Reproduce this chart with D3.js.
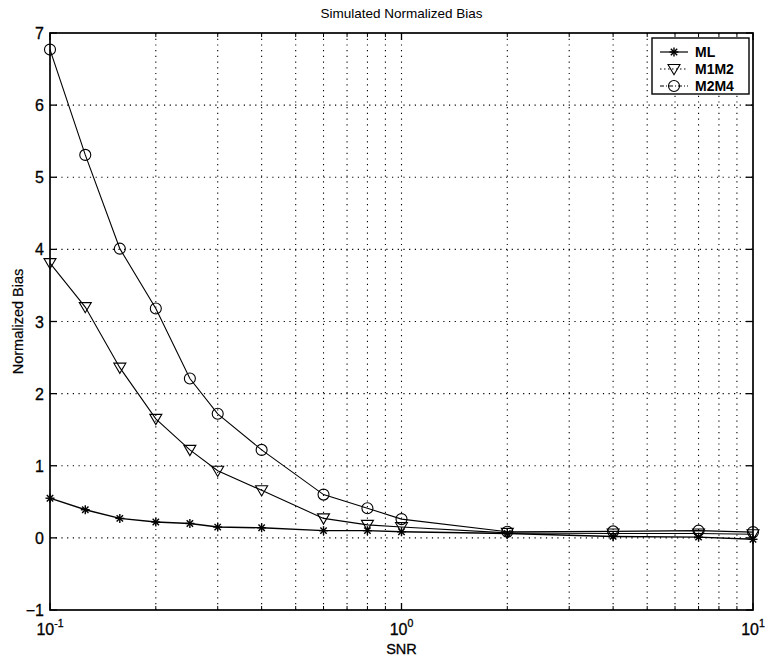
<!DOCTYPE html>
<html><head><meta charset="utf-8">
<script src="https://cdn.jsdelivr.net/npm/d3@7"></script>
<style>body{margin:0;background:#fff;} svg{display:block;} text{font-family:"Liberation Sans",Arial,sans-serif;fill:#000;}</style>
</head><body>
<svg id="c" width="765" height="660"></svg>
<script>
const snr = [0.1, 0.126, 0.158, 0.2, 0.25, 0.3, 0.4, 0.6, 0.8, 1.0, 2.0, 4.0, 7.0, 10.0];
const ml   = [0.55, 0.39, 0.27, 0.22, 0.20, 0.15, 0.14, 0.10, 0.10, 0.085, 0.06, 0.02, 0.01, -0.02];
const m1m2 = [3.81, 3.20, 2.36, 1.65, 1.22, 0.93, 0.66, 0.27, 0.18, 0.15, 0.07, 0.06, 0.06, 0.05];
const m2m4 = [6.77, 5.31, 4.01, 3.18, 2.21, 1.72, 1.22, 0.60, 0.41, 0.26, 0.085, 0.09, 0.10, 0.08];
const seriesNames = ["ML", "M1M2", "M2M4"];
const yTicks = [-1, 0, 1, 2, 3, 4, 5, 6, 7];
const xMajor = [0.1, 1, 10];
const xMajorExp = ["-1", "0", "1"];
const title = "Simulated Normalized Bias";
const xTitle = "SNR";
const yTitle = "Normalized  Bias";

const svg = d3.select("#c");
const L = 50, R = 753, T = 33, B = 610;
const x = d3.scaleLog().domain([0.1, 10]).range([L, R]);
const y = d3.scaleLinear().domain([-1, 7]).range([B, T]);

const xMinor = [];
[0.1, 1].forEach(d => { for (let k = 2; k <= 9; k++) xMinor.push(d * k); });

const g = svg.append("g");
const gridStyle = s => s.attr("stroke", "#000").attr("stroke-width", 1.1).attr("stroke-dasharray", "1.2,4.5").attr("fill", "none");
g.selectAll(".gx").data(xMinor.concat([1])).join("line")
  .attr("x1", d => x(d)).attr("x2", d => x(d)).attr("y1", T).attr("y2", B).call(gridStyle);
g.selectAll(".gy").data(yTicks.slice(1, -1)).join("line")
  .attr("x1", L).attr("x2", R).attr("y1", d => y(d)).attr("y2", d => y(d)).call(gridStyle);

g.append("rect").attr("x", L).attr("y", T).attr("width", R - L).attr("height", B - T)
  .attr("fill", "none").attr("stroke", "#000").attr("stroke-width", 1.7);

const tk = (x1, y1, x2, y2, w) => g.append("line").attr("x1", x1).attr("y1", y1).attr("x2", x2).attr("y2", y2).attr("stroke", "#000").attr("stroke-width", w || 1.3);
xMajor.forEach(d => { tk(x(d), B, x(d), B - 7); tk(x(d), T, x(d), T + 7); });
xMinor.forEach(d => { tk(x(d), B, x(d), B - 4, 1); tk(x(d), T, x(d), T + 4, 1); });
yTicks.forEach(d => { tk(L, y(d), L + 7, y(d)); tk(R, y(d), R - 7, y(d)); });

g.selectAll(".yl").data(yTicks).join("text")
  .attr("x", L - 6).attr("y", d => y(d) + 6).attr("text-anchor", "end")
  .attr("font-size", 16).attr("stroke", "#000").attr("stroke-width", 0.3)
  .text(d => d < 0 ? "\u2212" + Math.abs(d) : d);

xMajor.forEach((d, i) => {
  const t = g.append("text").attr("x", x(d)).attr("y", 635).attr("text-anchor", "middle").attr("font-size", 16)
    .attr("stroke", "#000").attr("stroke-width", 0.3);
  t.append("tspan").text("10");
  t.append("tspan").attr("dy", -8).attr("font-size", 10.5).text(xMajorExp[i]);
});

svg.append("text").attr("x", (L + R) / 2).attr("y", 18).attr("text-anchor", "middle").attr("font-size", 13.5).text(title);
svg.append("text").attr("x", (L + R) / 2).attr("y", 654).attr("text-anchor", "middle").attr("font-size", 14.5)
  .attr("stroke", "#000").attr("stroke-width", 0.3).text(xTitle);
svg.append("text").attr("transform", `translate(23,${(T + B) / 2}) rotate(-90)`).attr("text-anchor", "middle").attr("font-size", 14.5)
  .attr("stroke", "#000").attr("stroke-width", 0.2).text(yTitle);

function star(sel, cx, cy) {
  const r = 4.5;
  for (let a = 0; a < 4; a++) {
    const ang = a * Math.PI / 4;
    sel.append("line").attr("x1", cx - r * Math.cos(ang)).attr("y1", cy - r * Math.sin(ang))
      .attr("x2", cx + r * Math.cos(ang)).attr("y2", cy + r * Math.sin(ang))
      .attr("stroke", "#000").attr("stroke-width", 1.4);
  }
}
function tri(sel, cx, cy) {
  const s = 6;
  sel.append("path").attr("d", `M${cx - s},${cy - s * 0.75}L${cx + s},${cy - s * 0.75}L${cx},${cy + s * 0.95}Z`)
    .attr("fill", "none").attr("stroke", "#000").attr("stroke-width", 1.1);
}
function circ(sel, cx, cy) {
  sel.append("circle").attr("cx", cx).attr("cy", cy).attr("r", 5.5).attr("fill", "none").attr("stroke", "#000").attr("stroke-width", 1.1);
}
const series = [ml, m1m2, m2m4];
const markerFns = [star, tri, circ];
const line = d3.line().x((d, i) => x(snr[i])).y(d => y(d));
series.forEach((s, k) => {
  g.append("path").attr("d", line(s)).attr("fill", "none").attr("stroke", "#000").attr("stroke-width", k === 0 ? 1.4 : 1.1);
  const mg = g.append("g");
  s.forEach((v, i) => markerFns[k](mg, x(snr[i]), y(v)));
});

const lg = svg.append("g");
lg.append("rect").attr("x", 652).attr("y", 38).attr("width", 97).attr("height", 56)
  .attr("fill", "#fff").attr("stroke", "#000").attr("stroke-width", 1.4);
const dashes = [null, "1.5,2.5", "4,2,1,2"];
seriesNames.forEach((n, k) => {
  const yy = 52 + k * 17;
  const l = lg.append("line").attr("x1", 660).attr("x2", 688).attr("y1", yy).attr("y2", yy).attr("stroke", "#000").attr("stroke-width", 1.2);
  if (dashes[k]) l.attr("stroke-dasharray", dashes[k]);
  markerFns[k](lg, 674, yy);
  lg.append("text").attr("x", 695).attr("y", yy + 5).attr("font-size", 14).attr("font-weight", "bold").text(n);
});
</script>
</body></html>
